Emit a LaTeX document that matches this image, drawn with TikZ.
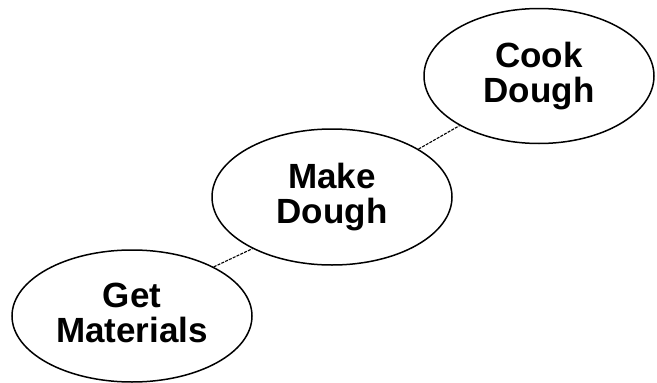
\documentclass[tikz,border=0pt]{standalone}
\usepackage{fontspec}
\setmainfont{Liberation Sans}
\usetikzlibrary{shapes.geometric}
\begin{document}
\begin{tikzpicture}[x=1pt,y=-1pt,
  stage/.style={draw=black, line width=1.5pt, ellipse, inner sep=0pt, align=center,
    font=\fontsize{35}{35}\selectfont\bfseries},
  link/.style={draw=black, line width=1.1pt, dash pattern=on 3pt off 1.2pt}]
\useasboundingbox (0,0) rectangle (657,383);
\node[stage, minimum width=240pt, minimum height=132pt] (gm) at (132,316) {Get\\Materials\vphantom{g}\rule[-4pt]{0pt}{1pt}};
\node[stage, minimum width=240pt, minimum height=136pt] (md) at (332,197) {Make\\Dough};
\node[stage, minimum width=230pt, minimum height=135pt] (cd) at (539,76) {Cook\\Dough};
\draw[link] (gm.31) -- (md.213);
\draw[link] (md.29) -- (cd.212);
\end{tikzpicture}
\end{document}
